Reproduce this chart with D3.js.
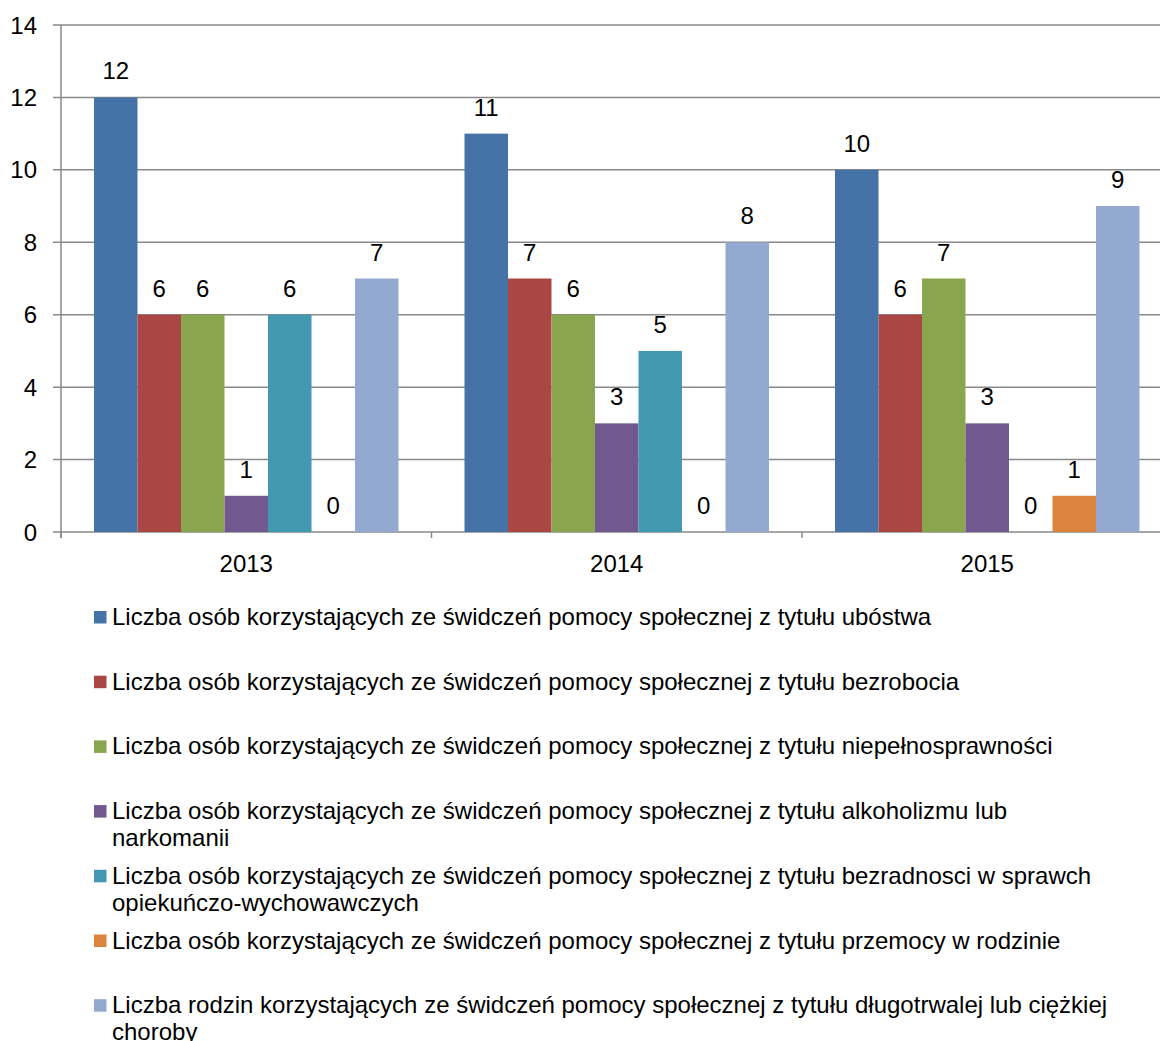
<!DOCTYPE html>
<html><head><meta charset="utf-8">
<script src="https://cdn.jsdelivr.net/npm/d3@7"></script>
<style>body{margin:0;background:#fff;} svg{display:block;}</style>
</head><body>
<svg id="chart" width="1160" height="1041"></svg>
<script>
const categories = ["2013", "2014", "2015"];
const seriesNames = [
  "Liczba osób korzystających ze świdczeń pomocy społecznej z tytułu ubóstwa",
  "Liczba osób korzystających ze świdczeń pomocy społecznej z tytułu bezrobocia",
  "Liczba osób korzystających ze świdczeń pomocy społecznej z tytułu niepełnosprawności",
  "Liczba osób korzystających ze świdczeń pomocy społecznej z tytułu alkoholizmu lub narkomanii",
  "Liczba osób korzystających ze świdczeń pomocy społecznej z tytułu bezradnosci w sprawch opiekuńczo-wychowawczych",
  "Liczba osób korzystających ze świdczeń pomocy społecznej z tytułu przemocy w rodzinie",
  "Liczba rodzin korzystających ze świdczeń pomocy społecznej z tytułu długotrwalej lub ciężkiej choroby"
];
const ubostwa = [12, 11, 10];
const bezrobocia = [6, 7, 6];
const niepelnosprawnosci = [6, 6, 7];
const alkoholizmu = [1, 3, 3];
const bezradnosci = [6, 5, 0];
const przemocy = [0, 0, 1];
const choroby = [7, 8, 9];
const seriesValues = [ubostwa, bezrobocia, niepelnosprawnosci, alkoholizmu, bezradnosci, przemocy, choroby];
const colors = ["#4572A7", "#AA4643", "#89A54E", "#71588F", "#4198AF", "#DB843D", "#93A9CF"];
const yTicks = [0, 2, 4, 6, 8, 10, 12, 14];

(function () {
const svg = d3.select("#chart");
const font = "'Liberation Sans', Arial, sans-serif";
const axisColor = "#898989";

const plotLeft = 61, plotTop = 25, plotBottom = 532;
const catW = 370.5;
const x0 = d3.scaleBand().domain(categories).range([plotLeft, plotLeft + catW * categories.length]).padding(0);
const x1 = d3.scaleBand().domain(d3.range(seriesNames.length)).range([33, catW - 33]).padding(0);
const y = d3.scaleLinear().domain([0, 14]).range([plotBottom, plotTop]);

// gridlines + y ticks
svg.append("g").selectAll("line").data(yTicks).join("line")
  .attr("x1", 53).attr("x2", 1160)
  .attr("y1", d => y(d)).attr("y2", d => y(d))
  .attr("stroke", axisColor).attr("stroke-width", 1.5);
svg.append("g").selectAll("text").data(yTicks).join("text")
  .attr("x", 37).attr("y", d => y(d) + 8.5)
  .attr("text-anchor", "end")
  .attr("font-family", font).attr("font-size", 24).attr("fill", "#000")
  .text(d => d);

// y axis line
svg.append("line").attr("x1", plotLeft).attr("x2", plotLeft).attr("y1", plotTop).attr("y2", plotBottom + 6)
  .attr("stroke", axisColor).attr("stroke-width", 1.5);

// x ticks at category boundaries
const bounds = categories.map(c => x0(c)).concat([x0(categories[categories.length-1]) + x0.bandwidth()]);
svg.append("g").selectAll("line").data(bounds).join("line")
  .attr("x1", d => d).attr("x2", d => d).attr("y1", plotBottom).attr("y2", plotBottom + 6)
  .attr("stroke", axisColor).attr("stroke-width", 1.5);

// category labels
svg.append("g").selectAll("text").data(categories).join("text")
  .attr("x", d => x0(d) + x0.bandwidth() / 2).attr("y", 572)
  .attr("text-anchor", "middle")
  .attr("font-family", font).attr("font-size", 24).attr("fill", "#000")
  .text(d => d);

// bars
const flat = [];
categories.forEach((c, ci) => seriesValues.forEach((vals, si) => flat.push({c, si, v: vals[ci]})));
svg.append("g").selectAll("rect").data(flat.filter(d => d.v > 0)).join("rect")
  .attr("x", d => x0(d.c) + x1(d.si))
  .attr("width", x1.bandwidth())
  .attr("y", d => y(d.v))
  .attr("height", d => y(0) - y(d.v))
  .attr("fill", d => colors[d.si]);

// data labels
svg.append("g").selectAll("text").data(flat).join("text")
  .attr("x", d => x0(d.c) + x1(d.si) + x1.bandwidth() / 2)
  .attr("y", d => y(d.v) - 18)
  .attr("text-anchor", "middle")
  .attr("font-family", font).attr("font-size", 24).attr("fill", "#000")
  .text(d => d.v);

// legend
const legend = svg.append("g");
const maxW = 1002;
seriesNames.forEach((name, i) => {
  const cy = 617 + i * 64.7;
  legend.append("rect").attr("x", 94).attr("y", cy - 6).attr("width", 12.5).attr("height", 12.5).attr("fill", colors[i]);
  const t = legend.append("text").attr("x", 112).attr("y", cy + 8)
    .attr("font-family", font).attr("font-size", 24).attr("fill", "#000");
  const words = name.split(" ");
  let line = [], ts = t.append("tspan").attr("x", 112);
  words.forEach(w => {
    line.push(w);
    ts.text(line.join(" "));
    if (ts.node().getComputedTextLength() > maxW && line.length > 1) {
      line.pop();
      ts.text(line.join(" "));
      line = [w];
      ts = t.append("tspan").attr("x", 112).attr("dy", 27).text(w);
    }
  });
});
})();
</script>
</body></html>
